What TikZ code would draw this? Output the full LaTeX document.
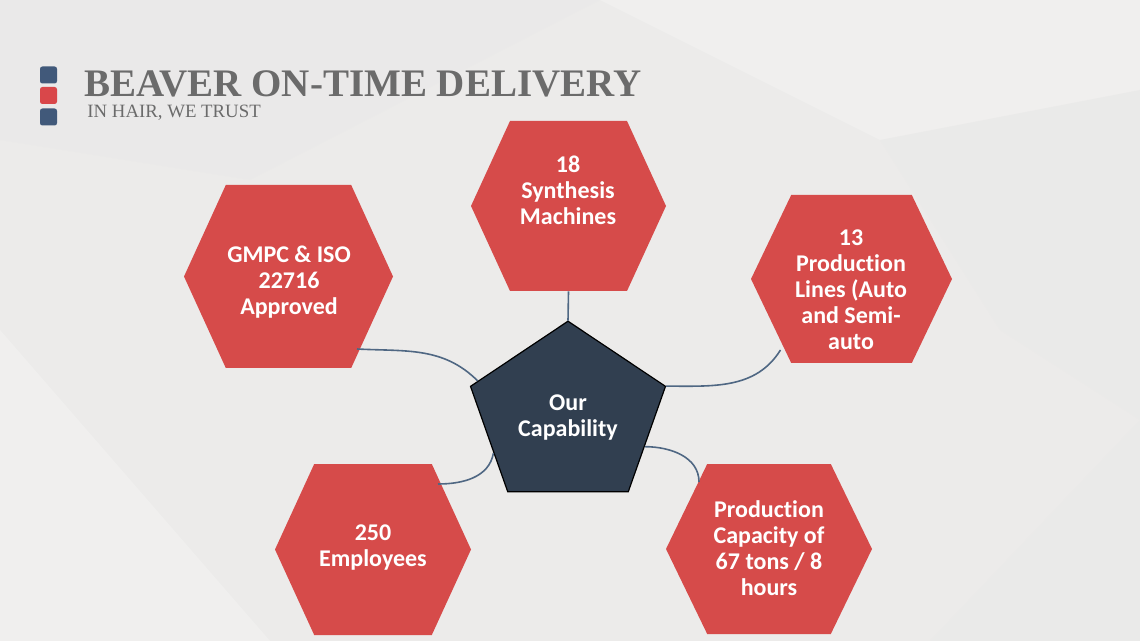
\documentclass[tikz,border=0pt]{standalone}
\usepackage{fontspec}
\setmainfont{Liberation Serif}
\newfontfamily\calib[Ligatures=CommonOff]{Carlito}
\usetikzlibrary{shapes.geometric,calc}
\definecolor{hexred}{HTML}{D64B4A}
\definecolor{slate}{HTML}{313F50}
\definecolor{linkblue}{HTML}{4F6783}
\definecolor{markblue}{HTML}{41597A}
\definecolor{markred}{HTML}{D9474A}
\definecolor{titlegray}{HTML}{6B6B6B}
\definecolor{bgbase}{HTML}{ECEBEA}

\begin{document}
\begin{tikzpicture}[x=0.5pt, y=0.5pt,
 hexa/.style 2 args={minimum width=#1, minimum height=#2, inner sep=0pt,
 path picture={\fill[hexred] (path picture bounding box.west)
   -- ($(path picture bounding box.north west)!.2!(path picture bounding box.north east)$)
   -- ($(path picture bounding box.north east)!.2!(path picture bounding box.north west)$)
   -- (path picture bounding box.east)
   -- ($(path picture bounding box.south east)!.2!(path picture bounding box.south west)$)
   -- ($(path picture bounding box.south west)!.2!(path picture bounding box.south east)$) -- cycle;}},
 hextxt/.style={text=white, align=center, inner sep=0pt,
 font=\calib\bfseries\fontsize{12pt}{13pt}\selectfont},
 markbox/.style={minimum size=8.5pt, inner sep=0pt, rounded corners=1.2pt},
 link/.style={draw=linkblue, line width=.8pt}]
% background
\fill[bgbase] (0,0) rectangle (1140,-641);
\fill[black!10!white, opacity=.18] (0,0) -- (600,0) -- (250,-180) -- (0,-140) -- cycle;
\fill[white, opacity=.22] (600,0) -- (1140,0) -- (1140,-90) -- (880,-140) -- cycle;
\fill[black!10!white, opacity=.15] (880,-140) -- (1140,-90) -- (1140,-420) -- (1000,-330) -- cycle;
\fill[white, opacity=.22] (0,-330) -- (270,-641) -- (0,-641) -- cycle;
\fill[black!10!white, opacity=.15] (930,-641) -- (1140,-420) -- (1140,-641) -- cycle;
\useasboundingbox (0,0) rectangle (1140,-641);

% heading
\node[markbox, fill=markblue] (mk1) at (48.5,-75) {};
\node[markbox, fill=markred] (mk2) at (48.5,-95.5) {};
\node[markbox, fill=markblue] (mk3) at (48.5,-117) {};
\node[anchor=base west, inner sep=0pt, text=titlegray,
 font=\bfseries\fontsize{19.5pt}{22pt}\selectfont] (title) at (84,-97) {BEAVER ON-TIME DELIVERY};
\node[anchor=base west, inner sep=0pt, text=titlegray,
 font=\fontsize{9.4pt}{11pt}\selectfont] (motto) at (87,-118) {IN HAIR, WE TRUST};

% hexagons
\node[hexa={97.5pt}{85pt}] (synth) at (568.5,-206) {};
\node[hexa={104.5pt}{91.5pt}] (gmpc) at (288.5,-276.5) {};
\node[hexa={100.5pt}{84pt}] (prod) at (851.5,-279) {};
\node[hexa={98pt}{85.5pt}] (emp) at (373,-549.5) {};
\node[hexa={103pt}{85pt}] (capa) at (769,-549) {};
\node[hextxt] (synth-t) at (568,-190) {18\\Synthesis\\Machines};
\node[hextxt] (gmpc-t) at (289,-282) {GMPC \& ISO\\22716\\Approved};
\node[hextxt] (prod-t) at (851,-290) {13\\Production\\Lines (Auto\\and Semi-\\auto};
\node[hextxt] (emp-t) at (373,-548) {250\\Employees};
\node[hextxt] (capa-t) at (769,-548) {Production\\Capacity of\\67 tons / 8\\hours};

% centre
\node[regular polygon, regular polygon sides=5, minimum size=102.5pt, inner sep=0pt,
 yscale=.92, transform shape, fill=slate, draw=black, line width=.6pt] (cap) at (568,-415.5) {};
\node[hextxt] (cap-t) at (568,-418) {Our\\Capability};

% links
\draw[link] (synth.south) -- (cap.corner 1);
\draw[link] ([shift={(68.5,-72.5)}]gmpc.center) to[out=-3,in=135] ($(cap.corner 2)!.08!(cap.corner 1)$);
\draw[link] ([shift={(-71,-71)}]prod.center) to[out=-122,in=0] (cap.corner 5);
\draw[link] ([shift={(65,65.5)}]emp.center) to[out=0,in=-100] ($(cap.corner 2)!.63!(cap.corner 3)$);
\draw[link] ([shift={(-70,67)}]capa.center) to[out=90,in=0] ($(cap.corner 5)!.57!(cap.corner 4)$);
\end{tikzpicture}
\end{document}
